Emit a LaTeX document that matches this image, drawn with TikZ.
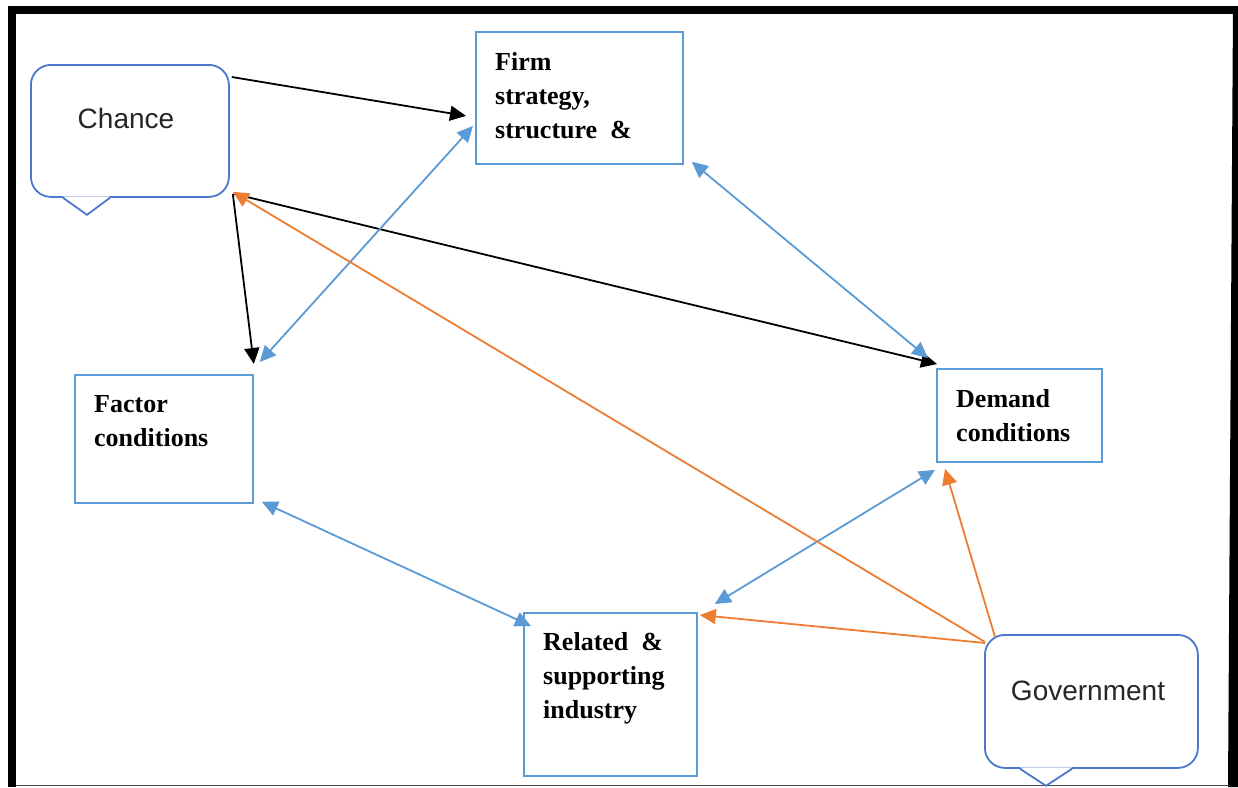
\documentclass[tikz,border=0pt]{standalone}
\usepackage{fontspec}
\setmainfont{Liberation Serif}
\newfontfamily\calloutfont{Liberation Sans}
\usetikzlibrary{arrows.meta,calc}
\definecolor{boxblue}{HTML}{5B9BD5}
\definecolor{callblue}{HTML}{4A78CC}
\definecolor{arrblue}{HTML}{5B9BD5}
\definecolor{arrorange}{HTML}{ED7D31}
\begin{document}
\begin{tikzpicture}[x=1pt,y=-1pt,
  forcebox/.style={draw=boxblue, line width=1.8pt, inner sep=0pt, anchor=north west},
  callbox/.style={draw=callblue, line width=1.8pt, rounded corners=20pt, inner sep=0pt, anchor=north west},
  boxtext/.style={font=\bfseries\fontsize{26}{34}\selectfont, align=left, inner sep=0pt, anchor=north west},
  calltext/.style={font=\calloutfont\fontsize{28}{34}\selectfont, inner sep=0pt, text=black!85},
  blackarr/.style={draw=black, line width=1.8pt, -{Triangle[length=16pt,width=15pt]}},
  bluearr/.style={draw=arrblue, line width=1.8pt, {Triangle[length=16pt,width=15pt]}-{Triangle[length=16pt,width=15pt]}},
  orangearr/.style={draw=arrorange, line width=1.8pt, -{Triangle[length=16pt,width=15pt]}},
  pointer/.style={draw=callblue, line width=1.8pt, line join=miter}
]
\useasboundingbox (0,0) rectangle (1238,787);
\fill[white] (0,0) rectangle (1238,787);

% frame
\fill[black] (8,6) rectangle (16,787);
\fill[black] (8,6) rectangle (1238,14);
\fill[black] (1233,6) -- (1238,6) -- (1238,787) -- (1228,787) -- cycle;
\draw[black!70, line width=1.5pt] (16,785.5) -- (1230,785.5);

% callouts
\node[callbox, minimum width=198pt, minimum height=132pt] (chance) at (30,64) {};
\fill[white] ($(chance.south west)+(33,-1.5)$) -- ($(chance.south west)+(57,17)$) -- ($(chance.south west)+(80,-1.5)$) -- cycle;
\draw[pointer] ($(chance.south west)+(33,0)$) -- ($(chance.south west)+(57,17)$) -- ($(chance.south west)+(80,0)$);
\node[calltext] (chancetxt) at (126,118) {Chance};

\node[callbox, minimum width=213pt, minimum height=133pt] (gov) at (984,634) {};
\fill[white] ($(gov.south west)+(36,-1.5)$) -- ($(gov.south west)+(62,17)$) -- ($(gov.south west)+(88,-1.5)$) -- cycle;
\draw[pointer] ($(gov.south west)+(36,0)$) -- ($(gov.south west)+(62,17)$) -- ($(gov.south west)+(88,0)$);
\node[calltext] (govtxt) at (1088,691) {Government};

% boxes
\node[forcebox, minimum width=207pt, minimum height=132pt] (firm) at (475,31) {};
\node[boxtext] (firmtxt) at (495,52) {Firm\\strategy,\\structure\ \ \&};

\node[forcebox, minimum width=178pt, minimum height=128pt] (factor) at (74,374) {};
\node[boxtext] (factortxt) at (94,395) {Factor\\conditions};

\node[forcebox, minimum width=165pt, minimum height=93pt] (demand) at (936,368) {};
\node[boxtext] (demandtxt) at (956,389) {Demand\\conditions};

\node[forcebox, minimum width=173pt, minimum height=163pt] (related) at (523,612) {};
\node[boxtext] (relatedtxt) at (543,632) {Related\ \ \&\\supporting\\industry};

% black arrows (chance)
\draw[blackarr] ($(chance.north east)+(2,13)$) -- ($(firm.west)+(-9,18)$);
\draw[blackarr] ($(chance.south east)+(3,-4)$) -- ($(factor.north east)+(0,-10)$);
\draw[blackarr] ($(chance.south east)+(4,-4)$) -- ($(demand.north west)+(1,-4)$);

% blue double arrows
\draw[bluearr] ($(factor.north east)+(6,-12)$) -- ($(firm.west)+(-2,28)$);
\draw[bluearr] ($(firm.south east)+(8,-3)$) -- ($(demand.north west)+(-8,-10)$);
\draw[bluearr] ($(demand.south west)+(-1,7)$) -- ($(related.north east)+(17,-8)$);
\draw[bluearr] ($(factor.south east)+(8,-2)$) -- ($(related.north west)+(8,14)$);

% orange arrows (government)
\draw[orangearr] ($(gov.north west)+(1,8)$) -- ($(chance.south east)+(3,-6)$);
\draw[orangearr] ($(gov.north west)+(11,3)$) -- ($(demand.south west)+(9,6)$);
\draw[orangearr] ($(gov.north west)+(1,9)$) -- ($(related.north east)+(2,3)$);
\end{tikzpicture}
\end{document}
